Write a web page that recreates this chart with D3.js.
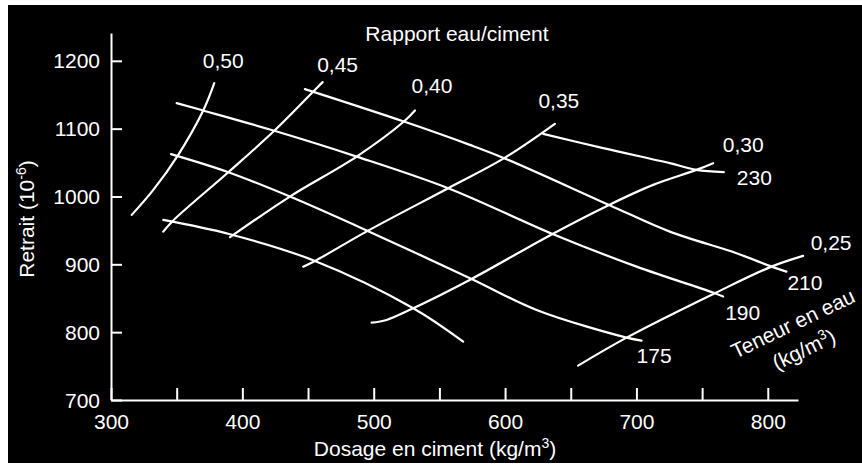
<!DOCTYPE html>
<html>
<head>
<meta charset="utf-8">
<script src="https://cdnjs.cloudflare.com/ajax/libs/d3/7.8.5/d3.min.js"></script>
<style>
  body { margin: 0; background: #fff; }
  text { font-family: "Liberation Sans", Arial, sans-serif; fill: #fff; }
</style>
</head>
<body>
<script>
// rapport eau/ciment curves, points are [dosage en ciment, retrait]
var ratio050 = [[315.8, 972.9], [332.2, 1009.7], [351.2, 1061.4], [370.2, 1126.7], [378.6, 1167.1]];
var ratio045 = [[339.8, 948.2], [347.0, 964.0], [389.3, 1035.8], [424.3, 1096.8], [454.0, 1154.7], [461.1, 1168.6]];
var ratio040 = [[390.6, 940.0], [436.2, 999.9], [487.0, 1058.8], [523.0, 1110.5], [531.4, 1126.7]];
var ratio035 = [[446.3, 896.6], [455.3, 905.0], [495.4, 949.3], [556.7, 1012.2], [599.3, 1056.5], [637.9, 1107.1]];
var ratio030 = [[498.4, 814.0], [509.8, 818.0], [530.1, 835.3], [574.5, 878.5], [636.1, 944.8], [679.2, 987.6], [712.7, 1017.1], [745.7, 1039.2], [758.4, 1049.1]];
var ratio025 = [[655.6, 750.6], [692.5, 791.9], [759.7, 857.4], [802.8, 896.6], [826.9, 912.4]];

// teneur en eau curves (kg/m3)
var water230 = [[629.0, 1092.3], [674.7, 1071.2], [725.4, 1049.1], [745.7, 1039.2], [766.5, 1035.8]];
var water210 = [[447.6, 1158.3], [523.0, 1110.5], [573.2, 1076.1], [599.3, 1056.5], [679.2, 987.6], [725.4, 948.2], [776.2, 916.4], [802.8, 896.6], [814.2, 889.2]];
var water190 = [[350.0, 1137.6], [370.2, 1126.7], [424.3, 1096.8], [487.0, 1058.8], [556.7, 1012.2], [636.1, 944.8], [700.1, 896.6], [759.7, 857.4], [766.0, 852.4]];
var water175 = [[345.7, 1062.4], [389.3, 1035.8], [436.2, 999.9], [495.4, 949.3], [574.5, 878.5], [624.0, 832.7], [692.5, 791.9], [703.9, 787.5]];
var waterLow = [[339.8, 965.5], [390.6, 944.4], [455.3, 905.0], [530.1, 835.3], [568.1, 786.0]];

var ratioLabels = ["0,50", "0,45", "0,40", "0,35", "0,30", "0,25"];
var waterLabels = ["230", "210", "190", "175", ""];

var xTicks = [300, 350, 400, 450, 500, 550, 600, 650, 700, 750, 800];
var yTicks = [700, 800, 900, 1000, 1100, 1200];

(function() {
  var width = 862;
  var height = 466;
  var font = "'Liberation Sans', Arial, sans-serif";

  var svg = d3.select("body")
    .append("svg")
    .attr("width", width)
    .attr("height", height);

  svg.append("rect")
    .attr("x", 8)
    .attr("y", 5)
    .attr("width", width - 8)
    .attr("height", height - 8)
    .attr("fill", "#000");

  var x = d3.scaleLinear().domain([300, 823]).range([111, 798]);
  var y = d3.scaleLinear().domain([700, 1241]).range([400, 33]);

  var xAxis = svg.append("g")
    .attr("transform", "translate(0," + y(700) + ")")
    .style("color", "#fff")
    .call(d3.axisBottom(x)
      .tickValues(xTicks)
      .tickSize(-12)
      .tickSizeOuter(0)
      .tickPadding(14)
      .tickFormat(function(d) { return d % 100 ? "" : d; }));

  var yAxis = svg.append("g")
    .attr("transform", "translate(" + x(300) + ",0)")
    .style("color", "#fff")
    .call(d3.axisLeft(y)
      .tickValues(yTicks)
      .tickSize(-11)
      .tickSizeOuter(0)
      .tickPadding(11)
      .tickFormat(d3.format("d")));

  [xAxis, yAxis].forEach(function(g) {
    g.attr("font-size", 21).attr("font-family", font);
    g.selectAll("path, line").attr("stroke-width", 2);
  });
  yAxis.selectAll("text").attr("dy", "0.34em");

  var line = d3.line()
    .x(function(d) { return x(d[0]); })
    .y(function(d) { return y(d[1]); })
    .curve(d3.curveCatmullRom);

  var ratioCurves = [ratio050, ratio045, ratio040, ratio035, ratio030, ratio025];
  var waterCurves = [water230, water210, water190, water175, waterLow];

  svg.selectAll(".curve")
    .data(ratioCurves.concat(waterCurves))
    .enter().append("path")
    .attr("class", "curve")
    .attr("d", line)
    .attr("fill", "none")
    .attr("stroke", "#fff")
    .attr("stroke-width", 2.2)
    .attr("stroke-linecap", "round");

  // labels sit next to the top end of each ratio curve
  var ratioOffsets = [[9, -15], [15, -10], [17, -18], [4, -16], [30, -11], [28, -6]];
  ratioCurves.forEach(function(c, i) {
    var end = c[c.length - 1];
    svg.append("text")
      .attr("x", x(end[0]) + ratioOffsets[i][0])
      .attr("y", y(end[1]) + ratioOffsets[i][1])
      .attr("text-anchor", "middle")
      .attr("font-size", 21)
      .text(ratioLabels[i]);
  });

  // and next to the right end of each water curve
  var waterOffsets = [[13, 13], [1, 18], [2, 23], [-5, 22], [0, 0]];
  waterCurves.forEach(function(c, i) {
    var end = c[c.length - 1];
    svg.append("text")
      .attr("x", x(end[0]) + waterOffsets[i][0])
      .attr("y", y(end[1]) + waterOffsets[i][1])
      .attr("font-size", 21)
      .text(waterLabels[i]);
  });

  svg.append("text")
    .attr("x", 457)
    .attr("y", 41)
    .attr("text-anchor", "middle")
    .attr("font-size", 21)
    .text("Rapport eau/ciment");

  var xTitle = svg.append("text")
    .attr("x", 435)
    .attr("y", 456)
    .attr("text-anchor", "middle")
    .attr("font-size", 21)
    .text("Dosage en ciment (kg/m");
  xTitle.append("tspan").attr("dy", -8).attr("font-size", 14).text("3");
  xTitle.append("tspan").attr("dy", 8).text(")");

  var yTitle = svg.append("text")
    .attr("transform", "translate(34,219) rotate(-90)")
    .attr("text-anchor", "middle")
    .attr("font-size", 21)
    .text("Retrait (10");
  yTitle.append("tspan").attr("dy", -8).attr("font-size", 14).text("-6");
  yTitle.append("tspan").attr("dy", 8).text(")");

  svg.append("text")
    .attr("transform", "translate(796,330) rotate(-25.5)")
    .attr("text-anchor", "middle")
    .attr("font-size", 21)
    .text("Teneur en eau");

  var unit = svg.append("text")
    .attr("transform", "translate(807,356) rotate(-25.5)")
    .attr("text-anchor", "middle")
    .attr("font-size", 21)
    .text("(kg/m");
  unit.append("tspan").attr("dy", -8).attr("font-size", 14).text("3");
  unit.append("tspan").attr("dy", 8).text(")");
})();
</script>
</body>
</html>
